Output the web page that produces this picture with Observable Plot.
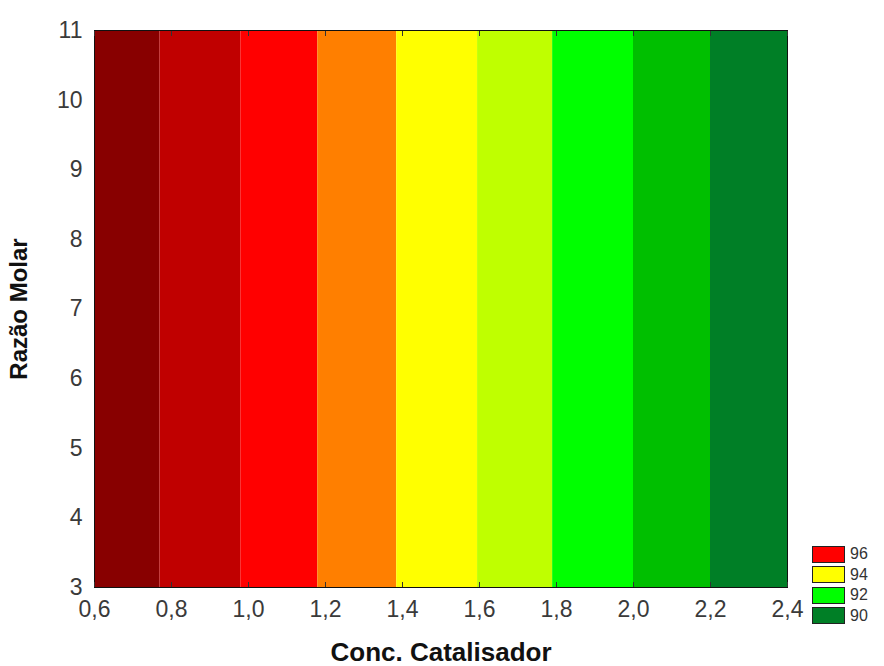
<!DOCTYPE html>
<html>
<head>
<meta charset="utf-8">
<script src="https://cdn.jsdelivr.net/npm/d3@7"></script>
<script src="https://cdn.jsdelivr.net/npm/@observablehq/plot@0.6"></script>
<style>
  body { margin: 0; background: #fff; }
  #wrap { position: relative; width: 884px; height: 666px; }
  #chart svg { font-family: "Liberation Sans", Arial, sans-serif; }
  g[aria-label="x-axis tick label"] text, g[aria-label="y-axis tick label"] text { fill: #3a3a3a; }
  g[aria-label="x-axis label"] text, g[aria-label="y-axis label"] text {
    font-family: "Liberation Sans", Arial, sans-serif; font-weight: bold; fill: #111;
  }
  g[aria-label="x-axis label"] text { font-size: 26px; }
  g[aria-label="y-axis label"] text { font-size: 24px; }
  #legend { position: absolute; left: 812px; top: 544px; font-family: "Liberation Sans", Arial, sans-serif; font-size: 16px; color: #333; }
  .item { display: flex; align-items: center; height: 20.5px; }
  .sw { width: 33px; height: 17px; border: 1px solid #222; box-sizing: border-box; margin-right: 5px; }
</style>
</head>
<body>
<div id="wrap">
  <div id="chart"></div>
  <div id="legend"></div>
</div>
<script>
// Contour bands (Conc. Catalisador boundaries), constant along Razão Molar
const bandStart = [0.6, 0.77, 0.98, 1.18, 1.385, 1.595, 1.79, 2.0, 2.2];
const bandEnd   = [0.77, 0.98, 1.18, 1.385, 1.595, 1.79, 2.0, 2.2, 2.4];
const bandLevel = [98, 97, 96, 95, 94, 93, 92, 91, 90];
const bandColor = ["#880000", "#c00000", "#ff0000", "#ff7f00", "#ffff00", "#bfff00", "#00ff00", "#00bf00", "#007f26"];
const yDomain = [3, 11];
const xTicks = [0.6, 0.8, 1.0, 1.2, 1.4, 1.6, 1.8, 2.0, 2.2, 2.4];
const yTicks = [3, 4, 5, 6, 7, 8, 9, 10, 11];
const legendLevels = [96, 94, 92, 90];

const bands = bandStart.map((s, i) => ({x1: s, x2: bandEnd[i], y1: yDomain[0], y2: yDomain[1], level: bandLevel[i]}));
const fmt = d => d.toFixed(1).replace(".", ",");

const plot = Plot.plot({
  width: 884,
  height: 666,
  marginLeft: 94,
  marginRight: 97,
  marginTop: 30,
  marginBottom: 79,
  style: {fontSize: "23px", color: "#333"},
  x: {domain: [0.6, 2.4]},
  y: {domain: yDomain},
  color: {type: "ordinal", domain: bandLevel, range: bandColor},
  marks: [
    Plot.rect(bands, {x1: "x1", x2: "x2", y1: "y1", y2: "y2", fill: "level"}),
    Plot.frame({stroke: "#111"}),
    Plot.axisX({ticks: xTicks, tickFormat: fmt, tickSize: 0, tickPadding: 13, label: "Conc. Catalisador", labelAnchor: "center", labelArrow: "none", labelOffset: 73}),
    Plot.axisX({ticks: xTicks, tickFormat: () => "", tickSize: -5, anchor: "bottom", label: null}),
    Plot.axisX({ticks: xTicks, tickFormat: () => "", tickSize: -5, anchor: "top", label: null}),
    Plot.axisY({ticks: yTicks, tickSize: 0, tickPadding: 12, label: "Razão Molar", labelAnchor: "center", labelArrow: "none", labelOffset: 85})
  ]
});
document.getElementById("chart").appendChild(plot);

const leg = document.getElementById("legend");
legendLevels.forEach(v => {
  const it = document.createElement("div");
  it.className = "item";
  const sw = document.createElement("div");
  sw.className = "sw";
  sw.style.background = bandColor[bandLevel.indexOf(v)];
  const t = document.createElement("span");
  t.textContent = v;
  it.appendChild(sw); it.appendChild(t);
  leg.appendChild(it);
});
</script>
</body>
</html>
